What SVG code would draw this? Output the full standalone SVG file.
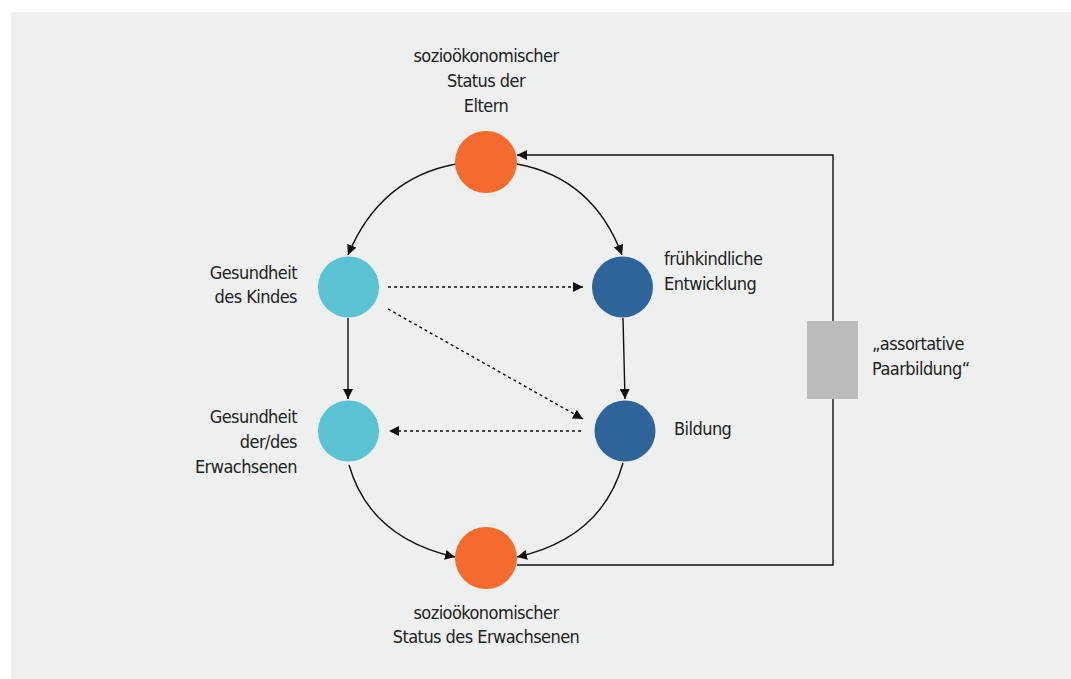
<svg xmlns="http://www.w3.org/2000/svg" width="1071" height="679" viewBox="0 0 1071 679">
<defs>
<style>
text{font-family:"Liberation Sans Narrow","DejaVu Sans Condensed","Liberation Sans",sans-serif;font-size:18px;letter-spacing:-0.55px;fill:#222}
.e{stroke:#111;stroke-width:1.4;fill:none}
.d{stroke:#111;stroke-width:1.4;fill:none;stroke-dasharray:3 3}
.orange{fill:#f46b2d}
.lb{fill:#59c2d3}
.db{fill:#2f649b}
</style>
<marker id="ah" viewBox="0 0 10 10" refX="10" refY="5" markerWidth="10" markerHeight="10" markerUnits="userSpaceOnUse" orient="auto">
<path d="M0,0 L10,5 L0,10 z" fill="#111"/>
</marker>
</defs>
<rect x="0" y="0" width="1071" height="679" fill="#fff"/>
<rect x="11" y="12" width="1060" height="667" fill="#eeefef"/>
<g id="connectors">
<path class="e" d="M456,164 Q380,178 348,255" marker-end="url(#ah)"/>
<path class="e" d="M517,164 Q593,178 622,255" marker-end="url(#ah)"/>
<path class="e" d="M348,318 L348,399" marker-end="url(#ah)"/>
<path class="e" d="M623,318 L625,399" marker-end="url(#ah)"/>
<path class="d" d="M388,287 L583,287" marker-end="url(#ah)"/>
<path class="d" d="M388,309 L583,419" marker-end="url(#ah)"/>
<path class="d" d="M581,431 L389,431" marker-end="url(#ah)"/>
<path class="e" d="M349,465 Q370,538 455,557" marker-end="url(#ah)"/>
<path class="e" d="M623,463 Q602,538 517,557" marker-end="url(#ah)"/>
<path class="e" d="M517,565 L833,565 L833,155 L517,155" marker-end="url(#ah)"/>
</g>
<g id="node-ses-eltern">
<circle class="orange" cx="486" cy="162" r="31"/>
<text x="486" y="62" text-anchor="middle">sozioökonomischer</text>
<text x="486" y="87" text-anchor="middle">Status der</text>
<text x="486" y="112" text-anchor="middle">Eltern</text>
</g>
<g id="node-gesundheit-kind">
<circle class="lb" cx="348.5" cy="287" r="30.5"/>
<text x="297" y="279" text-anchor="end">Gesundheit</text>
<text x="297" y="303" text-anchor="end">des Kindes</text>
</g>
<g id="node-fruehkindlich">
<circle class="db" cx="622.5" cy="287" r="30.5"/>
<text x="664" y="265">frühkindliche</text>
<text x="664" y="290">Entwicklung</text>
</g>
<g id="node-gesundheit-erwachsen">
<circle class="lb" cx="348.5" cy="431" r="30.5"/>
<text x="297" y="423" text-anchor="end">Gesundheit</text>
<text x="297" y="448" text-anchor="end">der/des</text>
<text x="297" y="473" text-anchor="end">Erwachsenen</text>
</g>
<g id="node-bildung">
<circle class="db" cx="625" cy="431" r="30.5"/>
<text x="674" y="435">Bildung</text>
</g>
<g id="node-ses-erwachsen">
<circle class="orange" cx="486" cy="558" r="31"/>
<text x="486" y="619" text-anchor="middle">sozioökonomischer</text>
<text x="486" y="643" text-anchor="middle">Status des Erwachsenen</text>
</g>
<g id="node-assortative">
<rect x="807" y="321" width="51" height="78" fill="#bbbbbb"/>
<text x="872" y="350">„assortative</text>
<text x="872" y="375">Paarbildung“</text>
</g>
</svg>
